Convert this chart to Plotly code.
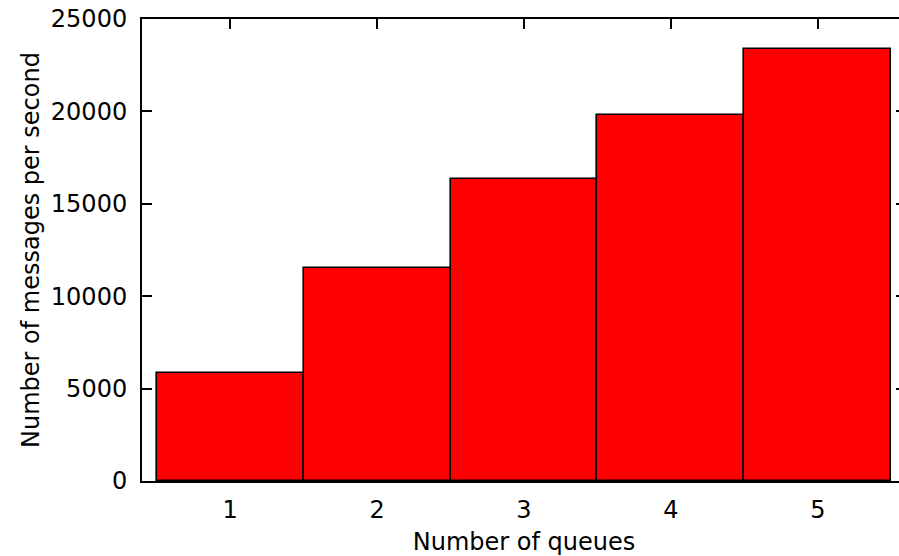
import plotly.graph_objects as go

queues = [1, 2, 3, 4, 5]
messages_per_second = [5850, 11540, 16340, 19820, 23390]
y_tick_values = [0, 5000, 10000, 15000, 20000, 25000]

FONT = "DejaVu Sans"
FS = 24

fig = go.Figure()
fig.add_trace(go.Bar(
    x=queues,
    y=messages_per_second,
    width=1.0,
    marker=dict(color="#ff0000", line=dict(color="black", width=1.6)),
    showlegend=False,
))

fig.update_layout(
    width=908,
    height=556,
    margin=dict(l=142, r=0, t=19, b=75, pad=0),
    plot_bgcolor="white",
    paper_bgcolor="white",
    font=dict(family=FONT, size=FS, color="black"),
    bargap=0,
    xaxis=dict(
        range=[0.4, 5.6],
        tickvals=queues,
        ticks="inside",
        ticklen=10,
        tickwidth=1.5,
        tickcolor="black",
        showline=True,
        linecolor="black",
        linewidth=2,
        mirror="ticks",
        showgrid=False,
        zeroline=False,
        layer="below traces",
        ticklabelstandoff=6,
        title=dict(text="Number of queues", standoff=14, font=dict(size=FS)),
    ),
    yaxis=dict(
        range=[0, 25000],
        tickvals=y_tick_values,
        ticktext=[str(v) for v in y_tick_values],
        ticks="inside",
        ticklen=10,
        tickwidth=1.5,
        tickcolor="black",
        showline=True,
        linecolor="black",
        linewidth=2,
        mirror="ticks",
        showgrid=False,
        zeroline=False,
        layer="below traces",
        ticklabelstandoff=8,
        title=dict(text="Number of messages per second", standoff=4, font=dict(size=FS)),
    ),
)

fig.write_html(
    "out.html",
    post_script="document.body.style.overflow='hidden';document.documentElement.style.overflow='hidden';",
)
